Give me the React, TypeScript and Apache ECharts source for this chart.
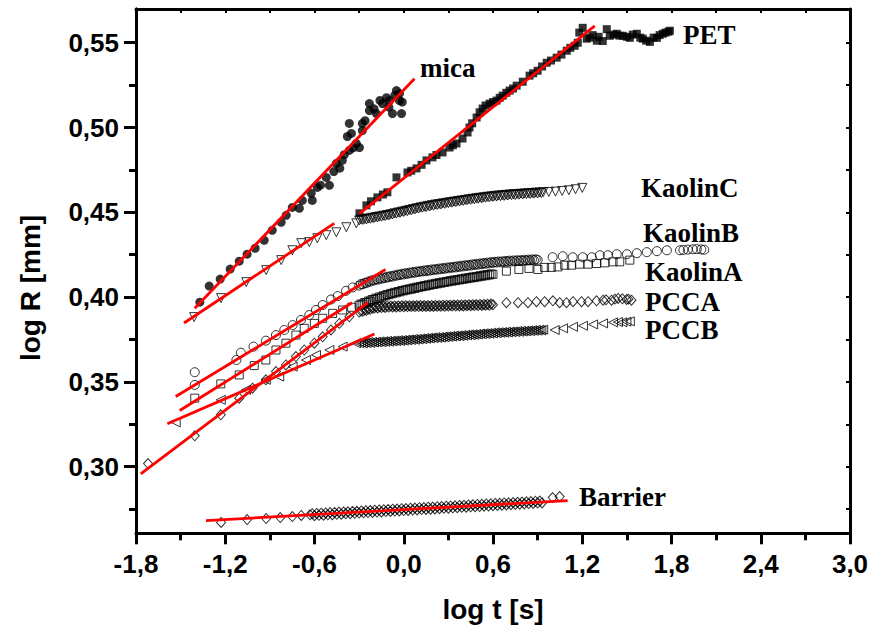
import React, { useEffect, useRef } from 'react';
import * as echarts from 'echarts';

// ---------- axis ticks ----------
const yMajorTicks = [0.30, 0.35, 0.40, 0.45, 0.50, 0.55];
const yMinorTicks = [0.275, 0.325, 0.375, 0.425, 0.475, 0.525];
const yRightTicks = [0.275, 0.30, 0.325, 0.35, 0.375, 0.40, 0.425, 0.45, 0.475, 0.50, 0.525, 0.55];

// shared log t grid for the dense part of the curves
const tDense = [
  -0.3, -0.2875, -0.275, -0.2625, -0.25, -0.2375, -0.225, -0.2125, -0.2, -0.1875,
  -0.175, -0.1625, -0.15, -0.1375, -0.125, -0.1125, -0.1, -0.0875, -0.075, -0.0625,
  -0.05, -0.0375, -0.025, -0.0125, 0, 0.0125, 0.025, 0.0375, 0.05, 0.0625,
  0.075, 0.0875, 0.1, 0.1125, 0.125, 0.1375, 0.15, 0.1625, 0.175, 0.1875,
  0.2, 0.2125, 0.225, 0.2375, 0.25, 0.2625, 0.275, 0.2875, 0.3, 0.3125,
  0.325, 0.3375, 0.35, 0.3625, 0.375, 0.3875, 0.4, 0.4125, 0.425, 0.4375,
  0.45, 0.4625, 0.475, 0.4875, 0.5, 0.5125, 0.525, 0.5375, 0.55, 0.5625,
  0.575, 0.5875, 0.6, 0.6125, 0.625, 0.6375, 0.65, 0.6625, 0.675, 0.6875,
  0.7, 0.7125, 0.725, 0.7375, 0.75, 0.7625, 0.775, 0.7875, 0.8, 0.8125,
  0.825, 0.8375, 0.85, 0.8625, 0.875, 0.8875, 0.9, 0.9125, 0.925, 0.9375,
];

// ---------- mica ----------
const micaT = [-1.371, -1.308, -1.234, -1.167, -1.106, -1.053, -0.999, -0.938, -0.884, -0.824, -0.790, -0.749, -0.702, -0.682, -0.622, -0.615, -0.581, -0.560, -0.500, -0.521, -0.470, -0.453, -0.430, -0.413, -0.400, -0.379, -0.366, -0.340, -0.319, -0.298, -0.352, -0.366, -0.278, -0.278, -0.260, -0.231, -0.231, -0.200, -0.184, -0.160, -0.143, -0.116, -0.100, -0.096, -0.076, -0.060, -0.029, -0.029, -0.015, -0.010, -0.049];
const micaR = [0.3970, 0.4065, 0.4106, 0.4165, 0.4212, 0.4253, 0.4288, 0.4335, 0.4394, 0.4441, 0.4482, 0.4529, 0.4524, 0.4570, 0.4612, 0.4570, 0.4647, 0.4660, 0.4659, 0.4706, 0.4740, 0.4788, 0.4760, 0.4806, 0.4840, 0.4947, 0.4865, 0.4880, 0.4906, 0.4882, 0.4965, 0.5024, 0.4982, 0.5024, 0.5040, 0.5100, 0.5141, 0.5110, 0.5082, 0.5160, 0.5141, 0.5176, 0.5120, 0.5159, 0.5082, 0.5190, 0.5200, 0.5159, 0.5082, 0.5150, 0.5218];

// ---------- PET ----------
const petT = [-0.298, -0.251, -0.220, -0.177, -0.140, -0.110, -0.049, 0.025, 0.050, 0.086, 0.120, 0.153, 0.193, 0.220, 0.261, 0.308, 0.330, 0.355, 0.395, 0.429, 0.442, 0.460, 0.490, 0.510, 0.530, 0.550, 0.577, 0.600, 0.624, 0.645, 0.665, 0.690, 0.712, 0.735, 0.759, 0.800, 0.846, 0.870, 0.900, 0.930, 0.961, 0.990, 1.028, 1.060, 1.096, 1.120, 1.149, 1.170, 1.180, 1.203, 1.230, 1.250, 1.270, 1.298, 1.310, 1.338, 1.365, 1.385, 1.410, 1.432, 1.450, 1.473, 1.500, 1.520, 1.540, 1.567, 1.590, 1.607, 1.630, 1.655, 1.680, 1.702, 1.720, 1.742, 1.760, 1.780, 1.789];
const petR = [0.4494, 0.4541, 0.4565, 0.4588, 0.4605, 0.4618, 0.4706, 0.4735, 0.4745, 0.4759, 0.4780, 0.4806, 0.4824, 0.4838, 0.4853, 0.4882, 0.4895, 0.4906, 0.4935, 0.4971, 0.5000, 0.5025, 0.5059, 0.5090, 0.5112, 0.5130, 0.5141, 0.5150, 0.5159, 0.5175, 0.5188, 0.5205, 0.5218, 0.5230, 0.5247, 0.5270, 0.5306, 0.5320, 0.5335, 0.5360, 0.5382, 0.5395, 0.5412, 0.5430, 0.5453, 0.5470, 0.5482, 0.5500, 0.5560, 0.5588, 0.5524, 0.5530, 0.5545, 0.5512, 0.5535, 0.5510, 0.5580, 0.5541, 0.5548, 0.5553, 0.5542, 0.5541, 0.5535, 0.5529, 0.5548, 0.5553, 0.5530, 0.5524, 0.5512, 0.5505, 0.5530, 0.5529, 0.5545, 0.5553, 0.5560, 0.5565, 0.5571];

// ---------- KaolinC ----------
const kaolinCEarlyT = [-1.409, -1.228, -1.059, -0.925, -0.824, -0.749, -0.689, -0.635, -0.581, -0.521, -0.453, -0.386, -0.319];
const kaolinCEarlyR = [0.3882, 0.3994, 0.4088, 0.4159, 0.4218, 0.4276, 0.4318, 0.4324, 0.4347, 0.4365, 0.4382, 0.4412, 0.4435];
const kaolinCDenseR = [
  0.4452, 0.4457, 0.4455, 0.4460, 0.4458, 0.4464, 0.4462, 0.4468, 0.4466, 0.4472,
  0.4470, 0.4476, 0.4474, 0.4480, 0.4478, 0.4484, 0.4482, 0.4489, 0.4487, 0.4494,
  0.4492, 0.4499, 0.4497, 0.4504, 0.4502, 0.4509, 0.4507, 0.4514, 0.4512, 0.4519,
  0.4517, 0.4524, 0.4522, 0.4529, 0.4527, 0.4533, 0.4531, 0.4538, 0.4535, 0.4542,
  0.4539, 0.4546, 0.4543, 0.4549, 0.4546, 0.4553, 0.4550, 0.4556, 0.4554, 0.4560,
  0.4557, 0.4563, 0.4560, 0.4567, 0.4564, 0.4570, 0.4567, 0.4573, 0.4571, 0.4577,
  0.4574, 0.4580, 0.4577, 0.4583, 0.4580, 0.4586, 0.4583, 0.4589, 0.4586, 0.4592,
  0.4588, 0.4594, 0.4591, 0.4597, 0.4593, 0.4599, 0.4595, 0.4601, 0.4597, 0.4603,
  0.4599, 0.4605, 0.4601, 0.4607, 0.4602, 0.4608, 0.4604, 0.4610, 0.4605, 0.4611,
  0.4607, 0.4613, 0.4608, 0.4614, 0.4610, 0.4616, 0.4611, 0.4617, 0.4613, 0.4619,
];
const kaolinCLateT = [0.975, 1.020, 1.065, 1.110, 1.155, 1.200];
const kaolinCLateR = [0.4620, 0.4622, 0.4626, 0.4630, 0.4636, 0.4644];

// ---------- KaolinB ----------
const kaolinBEarlyT = [-1.405, -1.405, -1.125, -1.095, -1.010, -0.927, -0.859, -0.803, -0.747, -0.691, -0.635, -0.590, -0.545, -0.489, -0.444, -0.388, -0.343];
const kaolinBEarlyR = [0.3557, 0.3482, 0.3629, 0.3672, 0.3708, 0.3743, 0.3776, 0.3806, 0.3835, 0.3865, 0.3894, 0.3924, 0.3953, 0.3986, 0.4006, 0.4037, 0.4057];
const kaolinBDenseR = [
  0.4068, 0.4077, 0.4076, 0.4084, 0.4083, 0.4092, 0.4091, 0.4099, 0.4098, 0.4105,
  0.4103, 0.4110, 0.4108, 0.4115, 0.4112, 0.4120, 0.4117, 0.4124, 0.4121, 0.4128,
  0.4126, 0.4133, 0.4130, 0.4137, 0.4134, 0.4141, 0.4137, 0.4144, 0.4141, 0.4148,
  0.4144, 0.4151, 0.4148, 0.4154, 0.4151, 0.4157, 0.4153, 0.4160, 0.4156, 0.4163,
  0.4159, 0.4165, 0.4162, 0.4168, 0.4164, 0.4171, 0.4167, 0.4174, 0.4170, 0.4176,
  0.4173, 0.4179, 0.4175, 0.4182, 0.4178, 0.4185, 0.4181, 0.4187, 0.4184, 0.4190,
  0.4186, 0.4193, 0.4189, 0.4196, 0.4192, 0.4198, 0.4194, 0.4201, 0.4197, 0.4203,
  0.4199, 0.4206, 0.4202, 0.4208, 0.4204, 0.4210, 0.4205, 0.4211, 0.4207, 0.4213,
  0.4209, 0.4215, 0.4210, 0.4216, 0.4211, 0.4217, 0.4213, 0.4218, 0.4214, 0.4220,
  0.4215, 0.4221, 0.4216, 0.4222, 0.4218, 0.4223, 0.4219,
];
const kaolinBLateT = [1.001, 1.069, 1.136, 1.203, 1.264, 1.318, 1.372, 1.432, 1.500, 1.567, 1.634, 1.702, 1.769, 1.857, 1.880, 1.910, 1.944, 1.970, 2.000, 2.020];
const kaolinBLateR = [0.4235, 0.4241, 0.4235, 0.4235, 0.4235, 0.4247, 0.4247, 0.4253, 0.4253, 0.4259, 0.4265, 0.4271, 0.4276, 0.4276, 0.4278, 0.4280, 0.4282, 0.4283, 0.4281, 0.4279];

// ---------- KaolinA ----------
const kaolinAEarlyT = [-1.405, -1.230, -1.106, -1.005, -0.927, -0.859, -0.792, -0.725, -0.669, -0.601, -0.545, -0.478, -0.411, -0.350];
const kaolinAEarlyR = [0.3404, 0.3488, 0.3541, 0.3596, 0.3629, 0.3688, 0.3728, 0.3776, 0.3816, 0.3845, 0.3875, 0.3904, 0.3924, 0.3940];
const kaolinADenseR = [
  0.3952, 0.3959, 0.3959, 0.3968, 0.3968, 0.3977, 0.3976, 0.3986, 0.3985, 0.3994,
  0.3992, 0.4001, 0.3999, 0.4008, 0.4007, 0.4015, 0.4014, 0.4022, 0.4020, 0.4028,
  0.4025, 0.4033, 0.4031, 0.4039, 0.4037, 0.4044, 0.4042, 0.4049, 0.4046, 0.4054,
  0.4051, 0.4059, 0.4056, 0.4063, 0.4061, 0.4068, 0.4065, 0.4072, 0.4070, 0.4077,
  0.4074, 0.4081, 0.4078, 0.4085, 0.4082, 0.4089, 0.4086, 0.4093, 0.4090, 0.4097,
  0.4094, 0.4101, 0.4097, 0.4104, 0.4101, 0.4108, 0.4105, 0.4112, 0.4108, 0.4115,
  0.4112, 0.4119, 0.4115, 0.4122, 0.4119, 0.4126, 0.4123, 0.4130, 0.4126, 0.4133,
  0.4130, 0.4137, 0.4134,
];
const kaolinALateT = [0.690, 0.774, 0.842, 0.902, 0.947, 0.992, 1.037, 1.082, 1.127, 1.183, 1.239, 1.296, 1.352, 1.407, 1.452, 1.520];
const kaolinALateR = [0.4153, 0.4163, 0.4169, 0.4163, 0.4175, 0.4175, 0.4178, 0.4188, 0.4188, 0.4194, 0.4194, 0.4198, 0.4202, 0.4208, 0.4208, 0.4218];

// ---------- PCCA ----------
const pccaEarlyT = [-1.719, -1.405, -1.230, -1.106, -1.017, -0.927, -0.859, -0.792, -0.725, -0.669, -0.601, -0.545, -0.489, -0.433, -0.366];
const pccaEarlyR = [0.3018, 0.3182, 0.3306, 0.3404, 0.3463, 0.3512, 0.3561, 0.3600, 0.3649, 0.3688, 0.3728, 0.3766, 0.3806, 0.3845, 0.3884];
const pccaDenseR = [
  0.3912, 0.3918, 0.3916, 0.3924, 0.3922, 0.3930, 0.3928, 0.3936, 0.3934, 0.3941,
  0.3936, 0.3943, 0.3938, 0.3944, 0.3939, 0.3946, 0.3941, 0.3947, 0.3942, 0.3948,
  0.3942, 0.3948, 0.3943, 0.3949, 0.3943, 0.3949, 0.3944, 0.3949, 0.3944, 0.3949,
  0.3944, 0.3950, 0.3944, 0.3950, 0.3945, 0.3950, 0.3945, 0.3950, 0.3945, 0.3951,
  0.3945, 0.3951, 0.3946, 0.3951, 0.3946, 0.3952, 0.3946, 0.3952, 0.3947, 0.3952,
  0.3947, 0.3953, 0.3947, 0.3953, 0.3948, 0.3954, 0.3948, 0.3954, 0.3949, 0.3955,
  0.3949, 0.3955, 0.3950, 0.3956, 0.3950, 0.3957, 0.3951, 0.3957, 0.3952, 0.3958,
  0.3952, 0.3959, 0.3955,
];
const pccaLateT = [0.690, 0.768, 0.835, 0.892, 0.947, 1.003, 1.048, 1.094, 1.138, 1.195, 1.239, 1.296, 1.340, 1.360, 1.397, 1.420, 1.441, 1.470, 1.498, 1.510, 1.531];
const pccaLateR = [0.3967, 0.3967, 0.3967, 0.3973, 0.3973, 0.3978, 0.3967, 0.3967, 0.3973, 0.3973, 0.3973, 0.3978, 0.3982, 0.3984, 0.3982, 0.3988, 0.3992, 0.3990, 0.3986, 0.3988, 0.3982];

// ---------- PCCB ----------
const pccbEarlyT = [-1.533, -1.230, -1.061, -0.927, -0.837, -0.747, -0.657, -0.590, -0.500, -0.411, -0.321];
const pccbEarlyR = [0.3261, 0.3394, 0.3453, 0.3512, 0.3531, 0.3590, 0.3629, 0.3659, 0.3688, 0.3708, 0.3728];
const pccbDenseR = [
  0.3728, 0.3732, 0.3727, 0.3733, 0.3729, 0.3735, 0.3730, 0.3736, 0.3732, 0.3737,
  0.3733, 0.3739, 0.3734, 0.3740, 0.3736, 0.3742, 0.3737, 0.3743, 0.3739, 0.3744,
  0.3740, 0.3746, 0.3741, 0.3747, 0.3743, 0.3749, 0.3745, 0.3751, 0.3747, 0.3753,
  0.3748, 0.3754, 0.3750, 0.3756, 0.3752, 0.3758, 0.3754, 0.3760, 0.3756, 0.3762,
  0.3758, 0.3764, 0.3759, 0.3765, 0.3761, 0.3767, 0.3763, 0.3769, 0.3765, 0.3771,
  0.3767, 0.3773, 0.3768, 0.3774, 0.3770, 0.3776, 0.3772, 0.3778, 0.3774, 0.3780,
  0.3775, 0.3781, 0.3777, 0.3783, 0.3779, 0.3785, 0.3781, 0.3787, 0.3782, 0.3788,
  0.3784, 0.3790, 0.3786, 0.3792, 0.3787, 0.3793, 0.3789, 0.3794, 0.3790, 0.3796,
  0.3791, 0.3797, 0.3793, 0.3798, 0.3794, 0.3800, 0.3795, 0.3801, 0.3797, 0.3802,
  0.3798, 0.3804, 0.3799, 0.3805, 0.3801, 0.3806, 0.3802, 0.3808, 0.3803, 0.3808,
];
const pccbLateT = [1.015, 1.071, 1.138, 1.205, 1.273, 1.340, 1.407, 1.440, 1.470, 1.497, 1.520];
const pccbLateR = [0.3806, 0.3816, 0.3825, 0.3831, 0.3839, 0.3845, 0.3851, 0.3853, 0.3852, 0.3855, 0.3857];

// ---------- Barrier ----------
const barrierEarlyT = [-1.228, -1.053, -0.925, -0.830, -0.749, -0.689];
const barrierEarlyR = [0.2671, 0.2688, 0.2694, 0.2700, 0.2706, 0.2712];
const barrierDenseT = [
  -0.630, -0.615, -0.600, -0.585, -0.570, -0.555, -0.540, -0.525, -0.510, -0.495,
  -0.480, -0.465, -0.450, -0.435, -0.420, -0.405, -0.390, -0.375, -0.360, -0.345,
  -0.330, -0.315, -0.300, -0.285, -0.270, -0.255, -0.240, -0.225, -0.210, -0.195,
  -0.180, -0.165, -0.150, -0.135, -0.120, -0.105, -0.090, -0.075, -0.060, -0.045,
  -0.030, -0.015, 0.000, 0.015, 0.030, 0.045, 0.060, 0.075, 0.090, 0.105,
  0.120, 0.135, 0.150, 0.165, 0.180, 0.195, 0.210, 0.225, 0.240, 0.255,
  0.270, 0.285, 0.300, 0.315, 0.330, 0.345, 0.360, 0.375, 0.390, 0.405,
  0.420, 0.435, 0.450, 0.465, 0.480, 0.495, 0.510, 0.525, 0.540, 0.555,
  0.570, 0.585, 0.600, 0.615, 0.630, 0.645, 0.660, 0.675, 0.690, 0.705,
  0.720, 0.735, 0.750, 0.765, 0.780, 0.795, 0.810, 0.825, 0.840, 0.855,
  0.870, 0.885, 0.900, 0.915, 0.930,
];
const barrierDenseR = [
  0.2716, 0.2723, 0.2711, 0.2724, 0.2713, 0.2726, 0.2714, 0.2727, 0.2716, 0.2729,
  0.2717, 0.2730, 0.2719, 0.2732, 0.2720, 0.2733, 0.2722, 0.2734, 0.2723, 0.2736,
  0.2725, 0.2737, 0.2726, 0.2739, 0.2728, 0.2740, 0.2729, 0.2742, 0.2730, 0.2743,
  0.2732, 0.2745, 0.2733, 0.2746, 0.2735, 0.2748, 0.2736, 0.2749, 0.2738, 0.2750,
  0.2739, 0.2752, 0.2741, 0.2753, 0.2742, 0.2755, 0.2744, 0.2756, 0.2745, 0.2758,
  0.2747, 0.2759, 0.2748, 0.2761, 0.2749, 0.2762, 0.2751, 0.2764, 0.2752, 0.2765,
  0.2754, 0.2767, 0.2755, 0.2768, 0.2757, 0.2769, 0.2758, 0.2771, 0.2760, 0.2772,
  0.2761, 0.2774, 0.2763, 0.2775, 0.2764, 0.2777, 0.2765, 0.2778, 0.2767, 0.2780,
  0.2768, 0.2781, 0.2770, 0.2783, 0.2771, 0.2784, 0.2773, 0.2786, 0.2774, 0.2787,
  0.2776, 0.2788, 0.2777, 0.2790, 0.2779, 0.2791, 0.2780, 0.2793, 0.2782, 0.2794,
  0.2783, 0.2796, 0.2785, 0.2797, 0.2786,
];
const barrierLateT = [1.001, 1.048];
const barrierLateR = [0.2818, 0.2824];

// ---------- linear fits (start / end) ----------
const fitMica = [[-1.405, 0.3934], [0.072, 0.5288]];
const fitPET = [[-0.298, 0.4492], [1.284, 0.5600]];
const fitKaolinC = [[-1.477, 0.3847], [-0.467, 0.4435]];
const fitKaolinB = [[-1.533, 0.3414], [-0.123, 0.4163]];
const fitKaolinA = [[-1.506, 0.3331], [-0.348, 0.3967]];
const fitPCCA = [[-1.768, 0.2957], [-0.242, 0.3967]];
const fitPCCB = [[-1.589, 0.3253], [-0.197, 0.3782]];
const fitBarrier = [[-1.329, 0.2682], [1.102, 0.2800]];

const zip = (xs: number[], ys: number[]) => ys.map((y, i) => [xs[i], y]);
const build = (eT: number[], eR: number[], dR: number[], lT: number[], lR: number[]) =>
  [...zip(eT, eR), ...zip(tDense, dR), ...zip(lT, lR)];

const X_MIN = -1.8;
const X_MAX = 3.0;
const Y_MIN = 0.2607;
const Y_MAX = 0.5699;
const GRID = { left: 136, right: 22, top: 9, bottom: 102.7 };
const W = 872;
const H = 636;
const BLACK = '#000';
const RED = '#ff0000';

const fmtX = (v: number) => (Math.abs(v) < 1e-9 ? 0 : v).toFixed(1).replace('.', ',');
const fmtY = (v: number) => v.toFixed(2).replace('.', ',');

const openStyle = { color: 'rgba(255,255,255,0)', borderColor: BLACK, borderWidth: 1 };

function scatter(name: string, data: number[][], symbol: string, size: any, filled: boolean, rotate = 0) {
  return {
    name, type: 'scatter', data, symbol, symbolSize: size, symbolRotate: rotate,
    itemStyle: filled ? { color: BLACK } : openStyle, z: 2, silent: true,
  };
}
function fit(name: string, data: number[][]) {
  return { name, type: 'line', data, symbol: 'none', lineStyle: { color: RED, width: 2.8 }, z: 3, silent: true };
}

const labelFont = { fontFamily: '"Liberation Serif", "Times New Roman", serif', fontWeight: 'bold', fontSize: 27 };
function annot(text: string, x: number, y: number) {
  return { type: 'text', x, y, z: 10, style: { text, fill: BLACK, ...labelFont, textAlign: 'left', textVerticalAlign: 'middle' } };
}

const SANS = '"Liberation Sans", Arial, sans-serif';
const tickFont = { fontFamily: SANS, fontWeight: 'bold', fontSize: 26, color: BLACK };
const lineOn = () => ({ show: true, onZero: false, lineStyle: { color: BLACK, width: 3 } });

export default function App() {
  const ref = useRef<HTMLDivElement>(null);
  const frameRef = useRef<HTMLDivElement>(null);
  useEffect(() => {
    document.body.style.margin = '0';
    const chart = echarts.init(ref.current!, null, { renderer: 'svg' });
    chart.setOption({
      animation: false,
      backgroundColor: '#fff',
      grid: { ...GRID },
      xAxis: [
        {
          type: 'value', position: 'bottom', min: X_MIN, max: X_MAX, interval: 0.6,
          axisLine: lineOn(),
          axisTick: { show: true, inside: false, length: 11, lineStyle: { color: BLACK, width: 3 } },
          minorTick: { show: true, splitNumber: 2, length: 7, lineStyle: { color: BLACK, width: 3 } },
          splitLine: { show: false }, minorSplitLine: { show: false },
          axisLabel: { ...tickFont, margin: 18, formatter: fmtX },
          name: 'log t [s]', nameLocation: 'middle', nameGap: 62,
          nameTextStyle: { fontFamily: SANS, fontWeight: 'bold', fontSize: 28, color: BLACK },
        },
        {
          type: 'value', position: 'top', min: X_MIN, max: X_MAX, interval: 0.3,
          axisLine: lineOn(),
          axisTick: { show: true, inside: true, length: 4, lineStyle: { color: BLACK, width: 2 } },
          axisLabel: { show: false }, splitLine: { show: false },
        },
      ],
      yAxis: [
        {
          type: 'value', position: 'left', min: Y_MIN, max: Y_MAX,
          axisLine: lineOn(),
          axisTick: { show: true, inside: false, length: 12, customValues: yMajorTicks, lineStyle: { color: BLACK, width: 3 } },
          axisLabel: { ...tickFont, margin: 17, customValues: yMajorTicks, formatter: fmtY },
          splitLine: { show: false },
        },
        {
          type: 'value', position: 'right', min: Y_MIN, max: Y_MAX,
          axisLine: lineOn(),
          axisTick: { show: true, inside: true, length: 4, customValues: yRightTicks, lineStyle: { color: BLACK, width: 2 } },
          axisLabel: { show: false }, splitLine: { show: false },
        },
      ],
      graphic: [
        {
          type: 'text', x: 30, y: 288, rotation: Math.PI / 2, z: 10,
          style: { text: 'log R [mm]', fill: BLACK, fontFamily: SANS, fontWeight: 'bold', fontSize: 28, textAlign: 'center', textVerticalAlign: 'middle' },
        },
        annot('mica', 420, 68),
        annot('PET', 683, 35),
        annot('KaolinC', 641, 188),
        annot('KaolinB', 643, 233),
        annot('KaolinA', 645, 272),
        annot('PCCA', 645, 302),
        annot('PCCB', 645, 330),
        annot('Barrier', 579, 497),
      ],
      series: [
        scatter('Barrier', [...zip(barrierEarlyT, barrierEarlyR), ...zip(barrierDenseT, barrierDenseR), ...zip(barrierLateT, barrierLateR)], 'diamond', [9, 10], false),
        scatter('PCCB', build(pccbEarlyT, pccbEarlyR, pccbDenseR, pccbLateT, pccbLateR), 'triangle', 9, false, 90),
        scatter('PCCA', build(pccaEarlyT, pccaEarlyR, pccaDenseR, pccaLateT, pccaLateR), 'diamond', [9, 10], false),
        scatter('KaolinA', build(kaolinAEarlyT, kaolinAEarlyR, kaolinADenseR, kaolinALateT, kaolinALateR), 'rect', 8, false),
        scatter('KaolinB', build(kaolinBEarlyT, kaolinBEarlyR, kaolinBDenseR, kaolinBLateT, kaolinBLateR), 'circle', 9, false),
        scatter('KaolinC', build(kaolinCEarlyT, kaolinCEarlyR, kaolinCDenseR, kaolinCLateT, kaolinCLateR), 'triangle', 9, false, 180),
        scatter('PET', zip(petT, petR), 'rect', 8, true),
        scatter('mica', zip(micaT, micaR), 'circle', 9, true),
        fit('mica fit', fitMica),
        fit('PET fit', fitPET),
        fit('KaolinC fit', fitKaolinC),
        fit('KaolinB fit', fitKaolinB),
        fit('KaolinA fit', fitKaolinA),
        fit('PCCA fit', fitPCCA),
        fit('PCCB fit', fitPCCB),
        fit('Barrier fit', fitBarrier),
      ],
    } as any);

    // Left frame edge with major / minor ticks: a second, transparent ECharts instance
    // with the same grid box, laid over the main chart.
    const frame = echarts.init(frameRef.current!, null, { renderer: 'svg' });
    frame.setOption({
      animation: false,
      backgroundColor: 'transparent',
      grid: { ...GRID },
      xAxis: { type: 'value', min: X_MIN, max: X_MAX, show: false },
      yAxis: [
        {
          type: 'value', position: 'left', min: Y_MIN, max: Y_MAX,
          axisLine: lineOn(),
          axisTick: { show: true, length: 12, customValues: yMajorTicks, lineStyle: { color: BLACK, width: 3 } },
          axisLabel: { show: false },
          splitLine: { show: false },
        },
        {
          type: 'value', position: 'left', min: Y_MIN, max: Y_MAX,
          axisLine: { show: false, onZero: false },
          axisTick: { show: true, length: 7, customValues: yMinorTicks, lineStyle: { color: BLACK, width: 3 } },
          axisLabel: { show: false },
          splitLine: { show: false },
        },
      ],
      series: [],
    } as any);

    return () => {
      frame.dispose();
      chart.dispose();
    };
  }, []);
  return (
    <div style={{ position: 'fixed', left: 0, top: 0, width: W, height: H }}>
      <div ref={ref} style={{ position: 'absolute', left: 0, top: 0, width: W, height: H, background: '#fff' }} />
      <div ref={frameRef} style={{ position: 'absolute', left: 0, top: 0, width: W, height: H, pointerEvents: 'none' }} />
    </div>
  );
}
